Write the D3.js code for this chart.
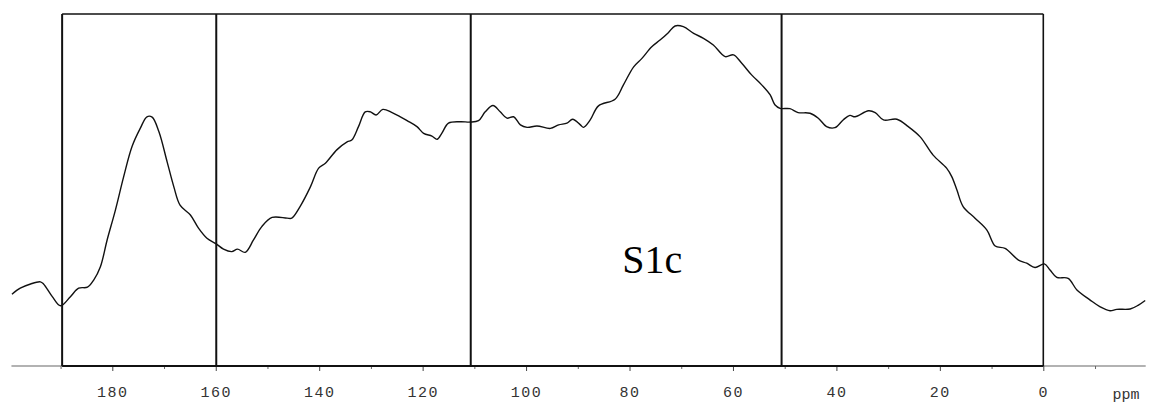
<!DOCTYPE html>
<html>
<head>
<meta charset="utf-8">
<script src="https://cdn.jsdelivr.net/npm/d3@7"></script>
<style>
  html, body { margin: 0; padding: 0; background: #fff; }
  svg { display: block; }
</style>
</head>
<body>
<svg id="chart" width="1149" height="403"></svg>
<script>
// Chemical shift (ppm) and relative intensity
const ppmValues = [199.4,197.8,195.8,193.9,193.3,191.6,190.0,188.1,186.5,184.8,183.6,182.3,181.0,179.4,177.8,176.2,174.6,173.3,172.3,171.0,169.4,168.1,166.9,164.9,163.3,161.7,159.9,158.5,156.9,155.8,154.3,152.7,151.1,149.1,146.2,145.3,143.7,141.7,140.1,138.8,136.6,134.6,133.7,132.4,131.1,130.1,129.0,127.7,125.9,124.3,123.0,121.1,119.8,118.2,117.2,116.3,115.0,112.7,110.8,109.2,107.9,106.4,105.0,103.7,102.4,101.1,99.8,97.9,95.3,93.7,92.1,91.0,89.5,88.9,87.6,86.0,82.8,81.2,79.2,77.6,75.7,74.1,72.5,71.2,69.6,67.6,65.7,63.8,61.5,59.9,58.3,56.4,54.4,52.8,51.9,50.9,49.0,47.4,45.1,43.5,41.9,40.3,38.7,37.4,36.4,33.8,32.5,30.9,28.3,26.1,23.8,21.3,18.7,17.7,16.7,15.5,13.2,10.9,9.3,7.4,4.8,3.2,1.6,-0.2,-1.3,-2.6,-4.8,-6.5,-9.0,-11.0,-12.9,-14.2,-16.8,-18.4,-19.7];
const intensityValues = [20.4,22.1,23.3,23.9,23.3,19.7,17.1,19.7,22.1,22.4,24.4,28.2,35.8,44.3,53.8,62.3,67.5,70.8,70.7,66.6,58.0,50.9,45.7,42.9,39.1,36.3,34.7,33.2,32.5,33.2,32.3,35.8,39.6,42.2,42.0,42.0,45.3,50.9,56.2,57.6,61.4,63.7,64.2,68.0,72.2,72.2,71.3,72.9,72.0,70.8,69.7,68.0,66.1,65.3,64.4,66.1,69.0,69.4,69.3,69.7,72.2,74.0,72.2,70.4,70.8,68.5,67.8,68.2,67.5,68.5,69.0,70.1,68.5,67.8,69.9,73.9,75.8,79.8,85.0,87.4,90.7,92.6,94.7,96.6,96.4,94.5,93.1,91.2,87.9,88.4,86.0,82.7,79.8,77.0,74.2,73.2,73.1,72.0,71.8,70.4,68.0,67.7,69.9,71.2,70.8,72.5,72.0,69.9,70.1,68.0,65.1,59.9,56.2,53.8,50.0,45.3,42.0,38.6,34.1,33.4,30.1,29.2,28.0,29.0,27.3,25.2,24.9,21.6,18.8,16.8,15.7,16.1,16.2,17.3,18.6];
// Integration region boundaries (ppm), as drawn
const regionBounds = [189.7, 159.9, 110.7, 50.6, 0];
// Axis ticks
const majorTicks = [180, 160, 140, 120, 100, 80, 60, 40, 20, 0];
const minorTicks = [190, 170, 150, 130, 110, 90, 70, 50, 30, 10, -10];
const axisExtent = [199.5, -19.8];
const unitLabel = "ppm";
const sampleLabel = "S1c";

const svg = d3.select("#chart");
const x = d3.scaleLinear().domain([180, 0]).range([112.3, 1043.3]);
const y = d3.scaleLinear().domain([0, 100]).range([366, 14]);
const data = ppmValues.map((p, i) => ({ p, v: intensityValues[i] }));

// thin baseline axis
svg.append("line")
  .attr("x1", x(axisExtent[0])).attr("x2", x(axisExtent[1]))
  .attr("y1", y(0)).attr("y2", y(0))
  .attr("stroke", "#666").attr("stroke-width", 1.2);

// ticks and labels via d3 axis
const axisMajor = d3.axisBottom(x).tickValues(majorTicks).tickSize(5).tickPadding(15).tickFormat(d3.format("d"));
const gA = svg.append("g").attr("transform", `translate(0,${y(0)})`).call(axisMajor);
gA.select(".domain").remove();
gA.selectAll(".tick line").attr("stroke", "#444").attr("stroke-width", 1);
gA.selectAll(".tick text")
  .attr("fill", "#333")
  .style("font-family", "'Liberation Mono', 'DejaVu Sans Mono', monospace")
  .style("font-size", "15px")
  .style("letter-spacing", "1.5px");

const axisMinor = d3.axisBottom(x).tickValues(minorTicks).tickSize(3).tickFormat("");
const gM = svg.append("g").attr("transform", `translate(0,${y(0)})`).call(axisMinor);
gM.select(".domain").remove();
gM.selectAll(".tick line").attr("stroke", "#666").attr("stroke-width", 1);

svg.append("text")
  .attr("x", x(-16)).attr("y", y(0) + 33)
  .attr("text-anchor", "middle")
  .attr("fill", "#333")
  .style("font-family", "'Liberation Mono', 'DejaVu Sans Mono', monospace")
  .style("font-size", "15px")
  .text(unitLabel);

// region box
const x0 = x(d3.max(regionBounds)), x1 = x(d3.min(regionBounds));
svg.append("line").attr("x1", x0).attr("x2", x1).attr("y1", y(100)).attr("y2", y(100))
  .attr("stroke", "#111").attr("stroke-width", 1.6);
svg.append("line").attr("x1", x0).attr("x2", x1).attr("y1", y(0)).attr("y2", y(0))
  .attr("stroke", "#111").attr("stroke-width", 2.2);
svg.selectAll("line.region").data(regionBounds).enter().append("line")
  .attr("class", "region")
  .attr("x1", d => x(d)).attr("x2", d => x(d))
  .attr("y1", y(100)).attr("y2", y(0))
  .attr("stroke", "#111").attr("stroke-width", d => (d === 0 ? 1.6 : 2));

// spectrum
const line = d3.line().x(d => x(d.p)).y(d => y(d.v)).curve(d3.curveCatmullRom.alpha(0.5));
svg.append("path").datum(data)
  .attr("d", line)
  .attr("fill", "none")
  .attr("stroke", "#111")
  .attr("stroke-width", 1.4)
  .attr("stroke-linejoin", "round");

// sample label
svg.append("text")
  .attr("x", x(75.6)).attr("y", y(26.5))
  .attr("text-anchor", "middle")
  .attr("fill", "#000")
  .style("font-family", "'Liberation Serif', 'Times New Roman', serif")
  .style("font-size", "40px")
  .text(sampleLabel);
</script>
</body>
</html>
